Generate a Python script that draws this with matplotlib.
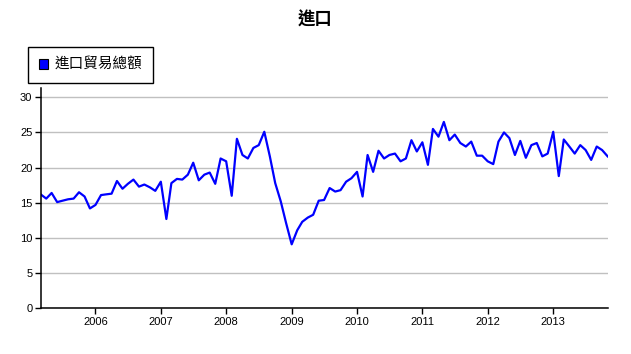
import pandas as pd
import numpy as np
import matplotlib
matplotlib.use("Agg")
import matplotlib.pyplot as plt
import matplotlib.dates as mdates
from matplotlib.patches import Patch

plt.rcParams['font.family'] = ['Liberation Sans', 'Noto Sans CJK TC', 'DejaVu Sans']

# monthly import totals, 2005-03 .. 2013-11
months = pd.date_range("2005-03-01", "2013-11-01", freq="MS")
values = [
    16.2, 15.6, 16.4, 15.1, 15.3, 15.5, 15.6, 16.5, 15.9, 14.2,
    14.7, 16.1, 16.2, 16.3, 18.1, 17.0, 17.7, 18.3, 17.3, 17.6,
    17.2, 16.7, 18.0, 12.7, 17.8, 18.4, 18.3, 19.0, 20.7, 18.2,
    19.0, 19.3, 17.7, 21.3, 20.9, 16.0, 24.1, 21.8, 21.3, 22.8,
    23.2, 25.1, 21.6, 17.8, 15.2, 12.1, 9.1, 11.1, 12.3, 12.9,
    13.3, 15.3, 15.4, 17.1, 16.6, 16.8, 18.0, 18.5, 19.4, 15.9,
    21.8, 19.4, 22.4, 21.3, 21.8, 22.0, 20.9, 21.3, 23.9, 22.3,
    23.6, 20.4, 25.5, 24.4, 26.5, 23.9, 24.7, 23.5, 23.0, 23.7,
    21.7, 21.7, 20.9, 20.5, 23.7, 25.0, 24.2, 21.8, 23.8, 21.4,
    23.2, 23.5, 21.6, 22.0, 25.1, 18.8, 24.0, 23.0, 22.0, 23.2,
    22.5, 21.1, 23.0, 22.5, 21.6,
]
years = list(range(2006, 2014))
title = "進口"
series_name = "進口貿易總額"

fig = plt.figure(figsize=(6.31, 3.54), dpi=100)
ax = fig.add_axes([0.0645, 0.129, 0.8985, 0.622])

ax.plot(months, values, color="#0000ff", linewidth=1.6, solid_joinstyle="round")

ax.set_ylim(0, 31.3)
ax.set_yticks(range(0, 31, 5))
ax.set_xlim(months[0], months[-1])
ax.set_xticks([pd.Timestamp(f"{y}-01-01") for y in years])
ax.xaxis.set_major_formatter(mdates.DateFormatter("%Y"))

ax.grid(axis="y", color="#c0c0c0", linewidth=1)
ax.set_axisbelow(True)
for s in ["top", "right"]:
    ax.spines[s].set_visible(False)
ax.spines["left"].set_linewidth(1.1)
ax.spines["bottom"].set_linewidth(1.1)
ax.tick_params(labelsize=8, length=4, width=1, direction="out", pad=2)

fig.text(0.5, 0.945, title, ha="center", va="center", fontsize=12.5,
         fontweight="bold", family=["Noto Sans CJK TC", "DejaVu Sans"])

handle = Patch(facecolor="#0000ff", edgecolor="black", linewidth=0.8)
leg = fig.legend([handle], [series_name], loc="upper left",
                 bbox_to_anchor=(0.0444, 0.867), borderaxespad=0,
                 fancybox=False, framealpha=1,
                 edgecolor="black", handlelength=0.6, handleheight=0.6,
                 handletextpad=0.45, borderpad=0.75,
                 prop={"family": ["Noto Sans CJK TC", "DejaVu Sans"], "size": 10.5})
leg.get_frame().set_linewidth(1.0)

fig.savefig("out.png", dpi=100)
